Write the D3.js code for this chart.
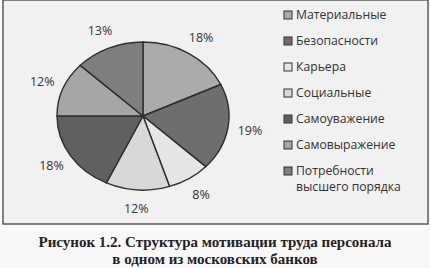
<!DOCTYPE html>
<html>
<head>
<meta charset="utf-8">
<script src="https://cdn.jsdelivr.net/npm/d3@7"></script>
<style>
  body { margin: 0; background: #fff; }
  svg text { font-family: "Open Sans", "Noto Sans", sans-serif; }
</style>
</head>
<body>
<script>
"use strict";

// data
const categories = ["Материальные", "Безопасности", "Карьера", "Социальные",
                    "Самоуважение", "Самовыражение", "Потребности высшего порядка"];
const values = [18, 19, 8, 12, 18, 12, 13];
const shades = ["#ababab", "#6e6e6e", "#e6e6e6", "#d8d8d8", "#606060", "#a6a6a6", "#7e7e7e"];
const captionLines = ["Рисунок 1.2. Структура мотивации труда персонала",
                      "в одном из московских банков"];

const w = 430, h = 268;
const cx = 143, cy = 116, rx = 86, ry = 74;

const svg = d3.select("body").append("svg")
  .attr("width", w).attr("height", h);

svg.append("rect")
  .attr("width", w).attr("height", h).attr("fill", "#f8f8f8");

// frame
svg.append("rect")
  .attr("x", 3).attr("y", 0).attr("width", 425).attr("height", 224)
  .attr("fill", "#f1f1f1").attr("stroke", "#444").attr("stroke-width", 1.3);

const pie = d3.pie().sort(null).value(d => d)(values);
const arc = d3.arc().innerRadius(0).outerRadius(rx);

// pie is drawn on a circle and squashed into an ellipse
const g = svg.append("g")
  .attr("transform", "translate(" + cx + "," + cy + ") scale(1," + (ry / rx) + ")");

g.selectAll("path")
  .data(pie)
  .enter()
  .append("path")
  .attr("d", arc)
  .attr("fill", (d, i) => shades[i])
  .attr("stroke", "#2e2e2e")
  .attr("stroke-width", 1.4)
  .attr("vector-effect", "non-scaling-stroke");

// percent labels
const lab = 1.26;
svg.selectAll("text.pct")
  .data(pie)
  .enter()
  .append("text")
  .attr("class", "pct")
  .attr("x", d => cx + Math.sin((d.startAngle + d.endAngle) / 2) * rx * lab)
  .attr("y", d => cy - Math.cos((d.startAngle + d.endAngle) / 2) * ry * lab)
  .attr("text-anchor", "middle")
  .attr("dy", "0.35em")
  .attr("font-size", 12.5)
  .attr("fill", "#333")
  .text(d => d.data + "%");

// legend
const legY = d3.scaleBand().domain(d3.range(categories.length)).range([2, 184]);
const leg = svg.selectAll("g.leg")
  .data(categories)
  .enter()
  .append("g")
  .attr("class", "leg")
  .attr("transform", (d, i) => "translate(284," + (legY(i) + 13) + ")");

leg.append("rect")
  .attr("x", 0).attr("y", -4).attr("width", 8).attr("height", 8)
  .attr("fill", (d, i) => shades[i])
  .attr("stroke", "#333").attr("stroke-width", 1);

leg.each(function (d) {
  const parts = d === "Потребности высшего порядка" ? ["Потребности", "высшего порядка"] : [d];
  parts.forEach((p, k) => {
    d3.select(this).append("text")
      .attr("x", 12).attr("y", k * 16)
      .attr("dy", "0.35em")
      .attr("font-size", 12.2).attr("fill", "#333")
      .text(p);
  });
});

// caption
svg.selectAll("text.cap")
  .data(captionLines)
  .enter()
  .append("text")
  .attr("class", "cap")
  .attr("x", 215)
  .attr("y", (d, i) => 247 + i * 16.5)
  .attr("text-anchor", "middle")
  .attr("font-size", 15)
  .attr("font-weight", "bold")
  .style("font-family", "'Liberation Serif', serif")
  .attr("fill", "#222")
  .text(d => d);
</script>
</body>
</html>
